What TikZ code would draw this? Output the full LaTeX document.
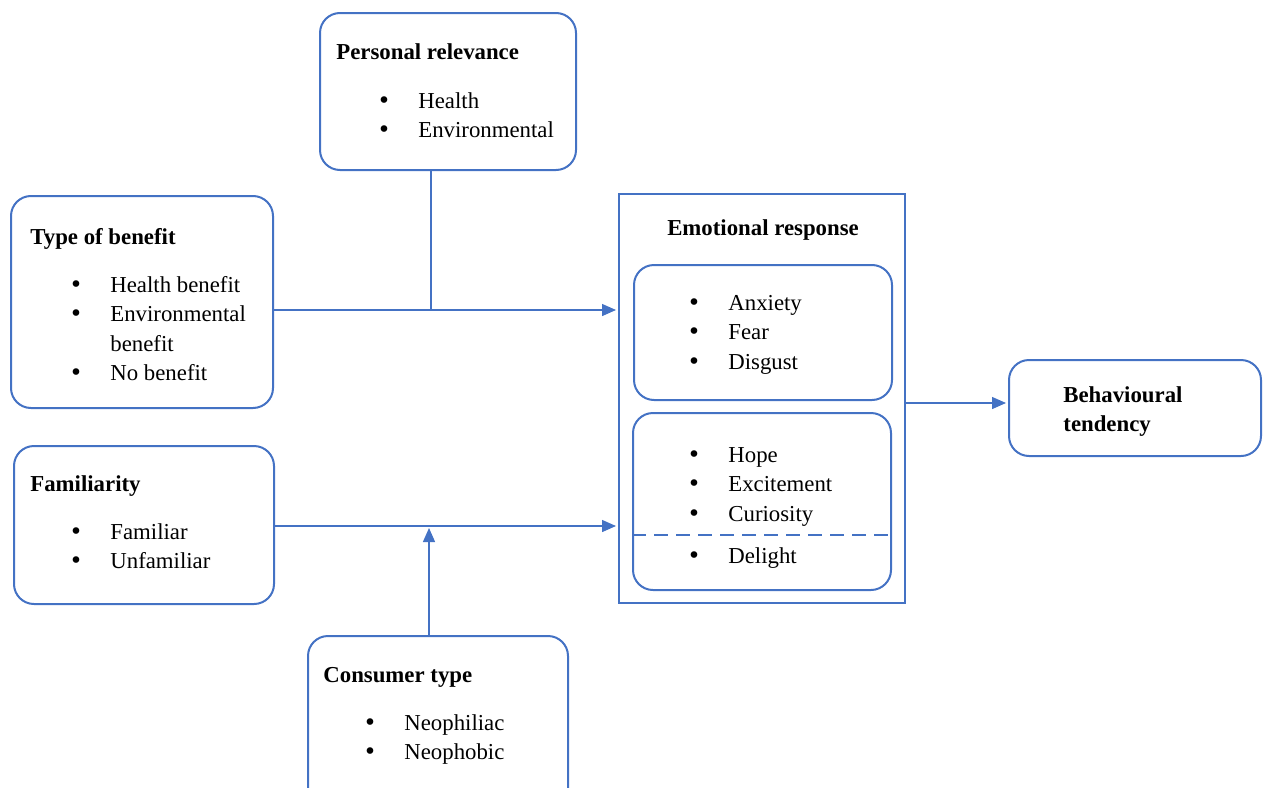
\documentclass[tikz,border=0pt]{standalone}
\usepackage{fontspec}
\setmainfont{Liberation Serif}
\newfontfamily\bulfont{DejaVu Sans}
\usetikzlibrary{arrows.meta}
\definecolor{frameblue}{HTML}{4472C4}
\newcommand\bul{\makebox[19.5pt][l]{\hspace*{-1pt}{\bulfont •}}}

\begin{document}
\begin{tikzpicture}[x=0.5pt, y=-0.5pt,
  font=\fontsize{11.4}{14.8}\selectfont,
  box/.style={draw=frameblue, line width=1pt, rounded corners=10pt, inner sep=0pt},
  frame/.style={draw=frameblue, line width=1pt, inner sep=0pt},
  title/.style={anchor=base west, inner sep=0pt, font=\fontsize{11.4}{14.8}\selectfont\bfseries},
  list/.style={anchor=base west, inner sep=0pt},
  link/.style={draw=frameblue, line width=0.7pt},
  arr/.style={link, -{Triangle[length=7pt, width=6pt]}, shorten >=1pt}]
  \useasboundingbox (0,0) rectangle (1263,787);

  % boxes
  \node (pers) at (448,91.5)  [box, minimum width=128pt, minimum height=78.5pt] {};
  \node (tb)   at (142,302)   [box, minimum width=131pt, minimum height=106pt] {};
  \node (fam)  at (144,525)   [box, minimum width=130pt, minimum height=79pt] {};
  \node (cons) at (438,723)   [box, minimum width=130pt, minimum height=87pt] {};
  \node (emo)  at (762,398.5) [frame, minimum width=143pt, minimum height=204.5pt] {};
  \node (neg)  at (763,332.5) [box, minimum width=129pt, minimum height=67.5pt] {};
  \node (pos)  at (762,501.5) [box, minimum width=129pt, minimum height=88.5pt] {};
  \node (beh)  at (1135,408)  [box, minimum width=126pt, minimum height=48pt] {};

  % texts
  \node (pers-t) at (336,59) [title] {Personal relevance};
  \node (pers-l) at (379,108) [list] {\begin{tabular}[t]{@{}l@{}}\bul Health\\ \bul Environmental\end{tabular}};

  \node (tb-t) at (30,244) [title] {Type of benefit};
  \node (tb-l) at (71,292) [list] {\begin{tabular}[t]{@{}l@{}}\bul Health benefit\\ \bul Environmental\\ \hspace*{19.5pt}benefit\\ \bul No benefit\end{tabular}};

  \node (fam-t) at (30,491) [title] {Familiarity};
  \node (fam-l) at (71,539) [list] {\begin{tabular}[t]{@{}l@{}}\bul Familiar\\ \bul Unfamiliar\end{tabular}};

  \node (cons-t) at (323,682) [title] {Consumer type};
  \node (cons-l) at (365,730) [list] {\begin{tabular}[t]{@{}l@{}}\bul Neophiliac\\ \bul Neophobic\end{tabular}};

  \node (emo-t) at (763,235) [title, anchor=base] {Emotional response};
  \node (neg-l) at (689,310) [list] {\begin{tabular}[t]{@{}l@{}}\bul Anxiety\\ \bul Fear\\ \bul Disgust\end{tabular}};
  \node (pos-l) at (689,462) [list] {\begin{tabular}[t]{@{}l@{}}\bul Hope\\ \bul Excitement\\ \bul Curiosity\end{tabular}};
  \node (pos-d) at (689,563) [list] {\bul Delight};

  \node (beh-t) at (1063,402) [title] {\begin{tabular}[t]{@{}l@{}}Behavioural\\ tendency\end{tabular}};

  % connectors
  \coordinate (j1) at (431,310);
  \coordinate (j2) at (429,526);
  \coordinate (j3) at (0,403);
  \coordinate (j4) at (0,535);

  \draw[link] (pers.south -| j1) -- (j1);
  \draw[arr] (tb.east |- j1) -- (emo.west |- j1);
  \draw[arr] (fam.east |- j2) -- (emo.west |- j2);
  \draw[arr] (cons.north -| j2) -- (j2);
  \draw[arr] (emo.east |- j3) -- (beh.west |- j3);

  \draw[frameblue, line width=1pt, dash pattern=on 7pt off 4pt] (pos.west |- j4) -- (pos.east |- j4);
\end{tikzpicture}
\end{document}
